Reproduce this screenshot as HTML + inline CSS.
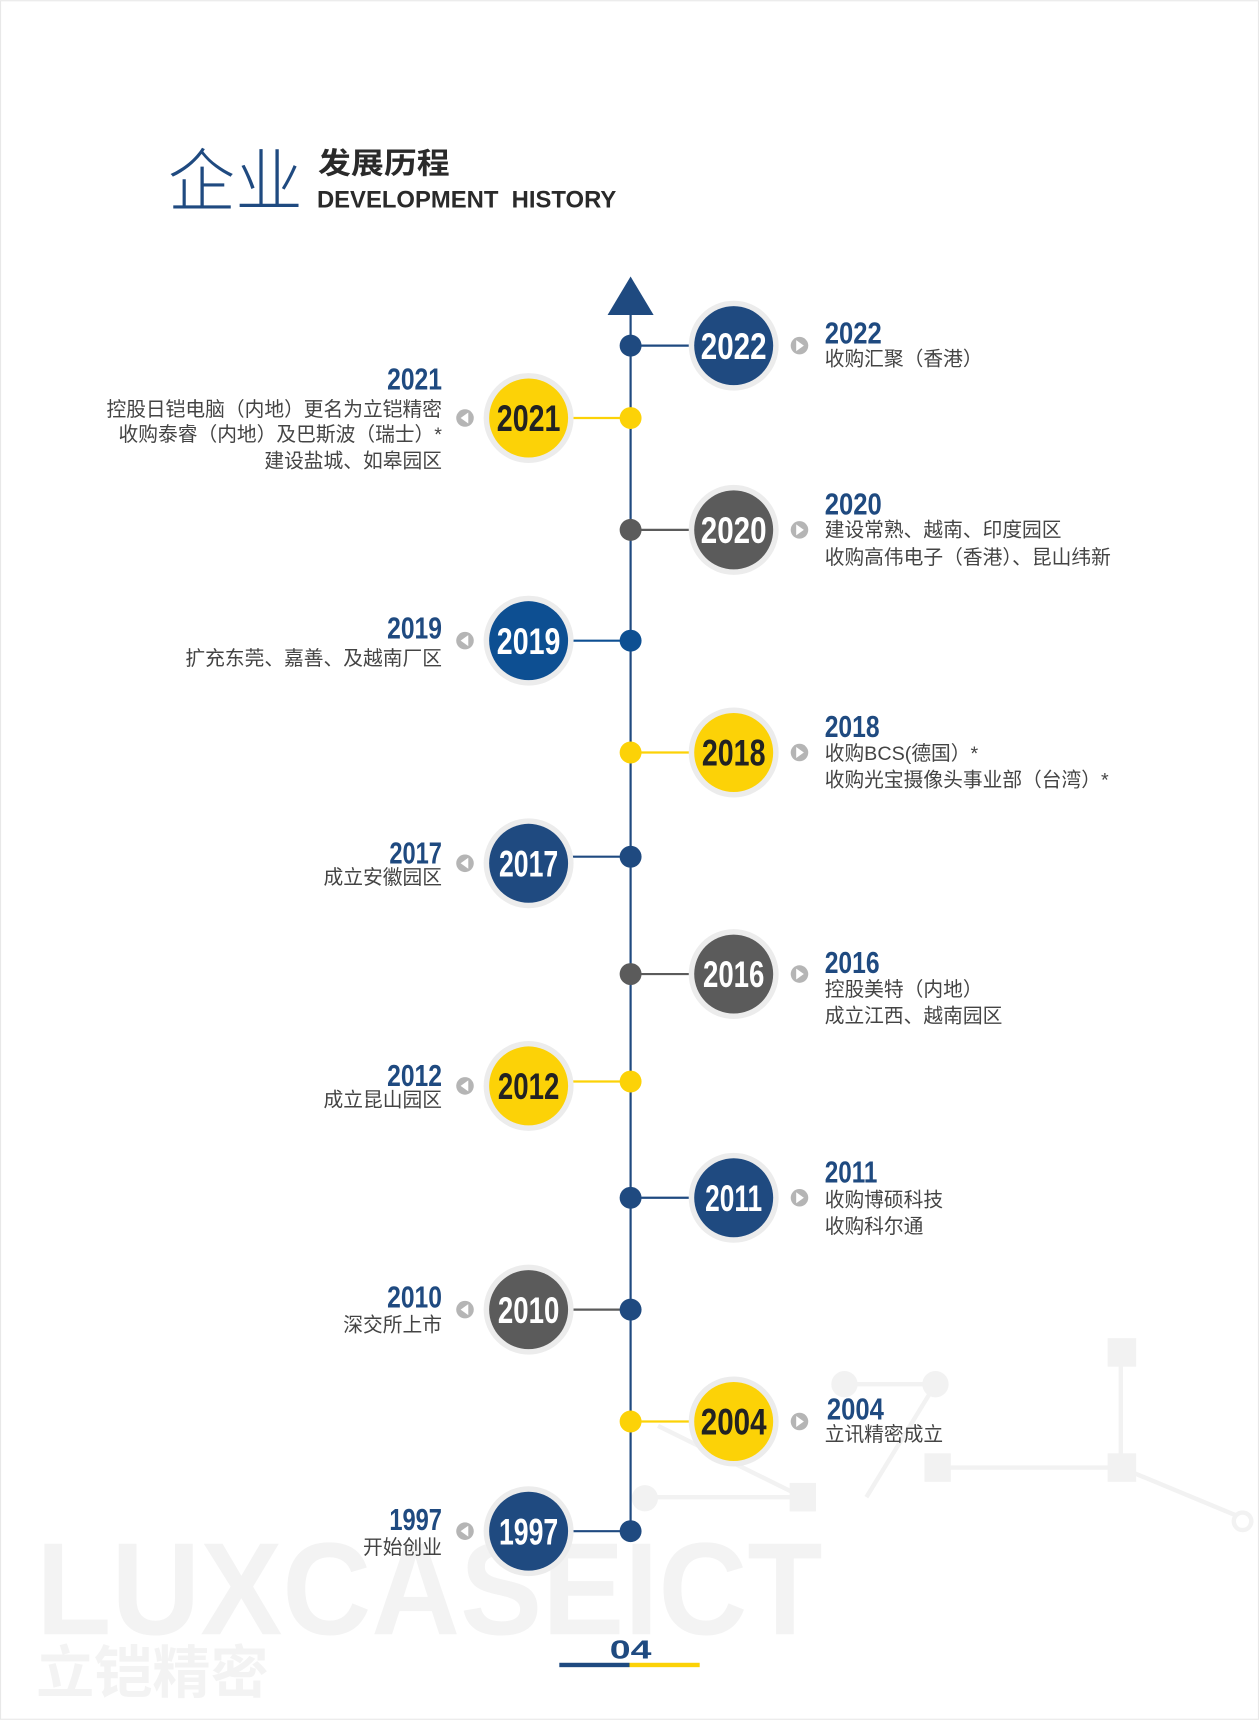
<!DOCTYPE html>
<html><head><meta charset="utf-8">
<style>
html,body{margin:0;padding:0;background:#fff;}
svg{display:block;}
text{font-family:"Liberation Sans","Noto Sans CJK SC",sans-serif;}
.yr{font-family:"Liberation Sans Narrow","Liberation Sans",sans-serif;font-weight:bold;}
.d{font-size:18px;fill:#444;}
</style></head><body>
<svg width="1259" height="1720" viewBox="0 0 1148 1568" xmlns="http://www.w3.org/2000/svg">
<rect x="0.5" y="0.5" width="1147" height="1567" fill="#fff" stroke="#e8e8e8"/>
<g stroke="#f2f2f2" stroke-width="4" fill="none">
<line x1="1022" y1="1230" x2="1022" y2="1338"/>
<line x1="855" y1="1338" x2="1022" y2="1338"/>
<line x1="1022" y1="1338" x2="1128" y2="1382"/>
<circle cx="1133" cy="1387" r="8"/>
<line x1="770" y1="1262" x2="853" y2="1262"/>
<line x1="853" y1="1262" x2="790" y2="1365"/>
<line x1="600" y1="1300" x2="732" y2="1365"/>
<line x1="732" y1="1365" x2="590" y2="1365"/>
</g>
<g fill="#f2f2f2">
<rect x="1010" y="1220" width="26" height="26"/>
<rect x="1010" y="1325" width="26" height="26"/>
<rect x="843" y="1325" width="24" height="26"/>
<rect x="720" y="1352" width="24" height="26"/>
<circle cx="770" cy="1262" r="12"/><circle cx="853" cy="1262" r="12"/>
<circle cx="588" cy="1366" r="12"/>
</g>
<text x="33" y="1490" font-size="120" font-weight="bold" fill="#f3f3f3" textLength="717" lengthAdjust="spacingAndGlyphs">LUXCASEICT</text>
<text x="33" y="1543" font-size="52" font-weight="bold" fill="#f3f3f3" textLength="212" lengthAdjust="spacingAndGlyphs">立铠精密</text>
<text x="153" y="187" font-size="62" fill="#1f4a80" style="font-family:'Noto Sans CJK SC',sans-serif;font-weight:300" textLength="123" lengthAdjust="spacingAndGlyphs">企业</text>
<text x="290" y="158" font-size="27" font-weight="bold" fill="#2a2a2a" textLength="120" lengthAdjust="spacingAndGlyphs">发展历程</text>
<text x="289" y="189" font-size="22" font-weight="bold" fill="#2a2a2a" textLength="273" lengthAdjust="spacingAndGlyphs">DEVELOPMENT&#160;&#160;HISTORY</text>
<line x1="575" y1="285" x2="575" y2="1396" stroke="#1f4a80" stroke-width="2"/>
<polygon points="575,252 596,287 554,287" fill="#1f4a80"/>

<line x1="575" y1="315" x2="632" y2="315" stroke="#1f4a80" stroke-width="2"/>
<circle cx="575" cy="315" r="10" fill="#1f4a80"/>
<circle cx="669" cy="315" r="41" fill="#ececec"/><circle cx="669" cy="315" r="36" fill="#1f4a80"/>
<text class="yr" x="669" y="327" font-size="34" fill="#fff" text-anchor="middle" textLength="60" lengthAdjust="spacingAndGlyphs">2022</text>
<circle cx="729" cy="315" r="8" fill="#b5b5b5"/><polygon points="726,310 733,315 726,320" fill="#fff"/>
<text class="yr" x="752" y="313" font-size="28" fill="#1f4a80" textLength="52" lengthAdjust="spacingAndGlyphs">2022</text>
<text class="d" x="752" y="333">收购汇聚（香港）</text>

<line x1="520" y1="381" x2="575" y2="381" stroke="#fcd207" stroke-width="2"/>
<circle cx="575" cy="381" r="10" fill="#fcd207"/>
<circle cx="482" cy="381" r="41" fill="#ececec"/><circle cx="482" cy="381" r="36" fill="#fcd207"/>
<text class="yr" x="482" y="393" font-size="34" fill="#222" text-anchor="middle" textLength="58" lengthAdjust="spacingAndGlyphs">2021</text>
<circle cx="424" cy="381" r="8" fill="#b5b5b5"/><polygon points="427,376 420,381 427,386" fill="#fff"/>
<text class="yr" x="403" y="355" font-size="28" fill="#1f4a80" text-anchor="end" textLength="50" lengthAdjust="spacingAndGlyphs">2021</text>
<text class="d" x="403" y="379" text-anchor="end">控股日铠电脑（内地）更名为立铠精密</text>
<text class="d" x="403" y="402" text-anchor="end">收购泰睿（内地）及巴斯波（瑞士）*</text>
<text class="d" x="403" y="426" text-anchor="end">建设盐城、如皋园区</text>

<line x1="575" y1="483" x2="632" y2="483" stroke="#5b5b5b" stroke-width="2"/>
<circle cx="575" cy="483" r="10" fill="#5b5b5b"/>
<circle cx="669" cy="483" r="41" fill="#ececec"/><circle cx="669" cy="483" r="36" fill="#5b5b5b"/>
<text class="yr" x="669" y="495" font-size="34" fill="#fff" text-anchor="middle" textLength="60" lengthAdjust="spacingAndGlyphs">2020</text>
<circle cx="729" cy="483" r="8" fill="#b5b5b5"/><polygon points="726,478 733,483 726,488" fill="#fff"/>
<text class="yr" x="752" y="469" font-size="28" fill="#1f4a80" textLength="52" lengthAdjust="spacingAndGlyphs">2020</text>
<text class="d" x="752" y="489">建设常熟、越南、印度园区</text>
<text class="d" x="752" y="514">收购高伟电子（香港）、昆山纬新</text>

<line x1="520" y1="584" x2="575" y2="584" stroke="#0d4f92" stroke-width="2"/>
<circle cx="575" cy="584" r="10" fill="#0d4f92"/>
<circle cx="482" cy="584" r="41" fill="#ececec"/><circle cx="482" cy="584" r="36" fill="#0d4f92"/>
<text class="yr" x="482" y="596" font-size="34" fill="#fff" text-anchor="middle" textLength="58" lengthAdjust="spacingAndGlyphs">2019</text>
<circle cx="424" cy="584" r="8" fill="#b5b5b5"/><polygon points="427,579 420,584 427,589" fill="#fff"/>
<text class="yr" x="403" y="582" font-size="28" fill="#1f4a80" text-anchor="end" textLength="50" lengthAdjust="spacingAndGlyphs">2019</text>
<text class="d" x="403" y="606" text-anchor="end">扩充东莞、嘉善、及越南厂区</text>

<line x1="575" y1="686" x2="632" y2="686" stroke="#fcd207" stroke-width="2"/>
<circle cx="575" cy="686" r="10" fill="#fcd207"/>
<circle cx="669" cy="686" r="41" fill="#ececec"/><circle cx="669" cy="686" r="36" fill="#fcd207"/>
<text class="yr" x="669" y="698" font-size="34" fill="#222" text-anchor="middle" textLength="58" lengthAdjust="spacingAndGlyphs">2018</text>
<circle cx="729" cy="686" r="8" fill="#b5b5b5"/><polygon points="726,681 733,686 726,691" fill="#fff"/>
<text class="yr" x="752" y="672" font-size="28" fill="#1f4a80" textLength="50" lengthAdjust="spacingAndGlyphs">2018</text>
<text class="d" x="752" y="693">收购BCS(德国）*</text>
<text class="d" x="752" y="717">收购光宝摄像头事业部（台湾）*</text>

<line x1="520" y1="781" x2="575" y2="781" stroke="#1f4a80" stroke-width="2"/>
<circle cx="575" cy="781" r="10" fill="#1f4a80"/>
<circle cx="482" cy="787" r="41" fill="#ececec"/><circle cx="482" cy="787" r="36" fill="#1f4a80"/>
<text class="yr" x="482" y="799" font-size="34" fill="#fff" text-anchor="middle" textLength="54" lengthAdjust="spacingAndGlyphs">2017</text>
<circle cx="424" cy="787" r="8" fill="#b5b5b5"/><polygon points="427,782 420,787 427,792" fill="#fff"/>
<text class="yr" x="403" y="787" font-size="28" fill="#1f4a80" text-anchor="end" textLength="48" lengthAdjust="spacingAndGlyphs">2017</text>
<text class="d" x="403" y="806" text-anchor="end">成立安徽园区</text>

<line x1="575" y1="888" x2="632" y2="888" stroke="#5b5b5b" stroke-width="2"/>
<circle cx="575" cy="888" r="10" fill="#5b5b5b"/>
<circle cx="669" cy="888" r="41" fill="#ececec"/><circle cx="669" cy="888" r="36" fill="#5b5b5b"/>
<text class="yr" x="669" y="900" font-size="34" fill="#fff" text-anchor="middle" textLength="56" lengthAdjust="spacingAndGlyphs">2016</text>
<circle cx="729" cy="888" r="8" fill="#b5b5b5"/><polygon points="726,883 733,888 726,893" fill="#fff"/>
<text class="yr" x="752" y="887" font-size="28" fill="#1f4a80" textLength="50" lengthAdjust="spacingAndGlyphs">2016</text>
<text class="d" x="752" y="908">控股美特（内地）</text>
<text class="d" x="752" y="932">成立江西、越南园区</text>

<line x1="520" y1="986" x2="575" y2="986" stroke="#fcd207" stroke-width="2"/>
<circle cx="575" cy="986" r="10" fill="#fcd207"/>
<circle cx="482" cy="990" r="41" fill="#ececec"/><circle cx="482" cy="990" r="36" fill="#fcd207"/>
<text class="yr" x="482" y="1002" font-size="34" fill="#222" text-anchor="middle" textLength="56" lengthAdjust="spacingAndGlyphs">2012</text>
<circle cx="424" cy="990" r="8" fill="#b5b5b5"/><polygon points="427,985 420,990 427,995" fill="#fff"/>
<text class="yr" x="403" y="990" font-size="28" fill="#1f4a80" text-anchor="end" textLength="50" lengthAdjust="spacingAndGlyphs">2012</text>
<text class="d" x="403" y="1009" text-anchor="end">成立昆山园区</text>

<line x1="575" y1="1092" x2="632" y2="1092" stroke="#1f4a80" stroke-width="2"/>
<circle cx="575" cy="1092" r="10" fill="#1f4a80"/>
<circle cx="669" cy="1092" r="41" fill="#ececec"/><circle cx="669" cy="1092" r="36" fill="#1f4a80"/>
<text class="yr" x="669" y="1104" font-size="34" fill="#fff" text-anchor="middle" textLength="52" lengthAdjust="spacingAndGlyphs">2011</text>
<circle cx="729" cy="1092" r="8" fill="#b5b5b5"/><polygon points="726,1087 733,1092 726,1097" fill="#fff"/>
<text class="yr" x="752" y="1078" font-size="28" fill="#1f4a80" textLength="48" lengthAdjust="spacingAndGlyphs">2011</text>
<text class="d" x="752" y="1100">收购博硕科技</text>
<text class="d" x="752" y="1124">收购科尔通</text>

<line x1="520" y1="1194" x2="575" y2="1194" stroke="#5b5b5b" stroke-width="2"/>
<circle cx="575" cy="1194" r="10" fill="#1f4a80"/>
<circle cx="482" cy="1194" r="41" fill="#ececec"/><circle cx="482" cy="1194" r="36" fill="#5b5b5b"/>
<text class="yr" x="482" y="1206" font-size="34" fill="#fff" text-anchor="middle" textLength="56" lengthAdjust="spacingAndGlyphs">2010</text>
<circle cx="424" cy="1194" r="8" fill="#b5b5b5"/><polygon points="427,1189 420,1194 427,1199" fill="#fff"/>
<text class="yr" x="403" y="1192" font-size="28" fill="#1f4a80" text-anchor="end" textLength="50" lengthAdjust="spacingAndGlyphs">2010</text>
<text class="d" x="403" y="1214" text-anchor="end">深交所上市</text>

<line x1="575" y1="1296" x2="632" y2="1296" stroke="#fcd207" stroke-width="2"/>
<circle cx="575" cy="1296" r="10" fill="#fcd207"/>
<circle cx="669" cy="1296" r="41" fill="#ececec"/><circle cx="669" cy="1296" r="36" fill="#fcd207"/>
<text class="yr" x="669" y="1308" font-size="34" fill="#222" text-anchor="middle" textLength="60" lengthAdjust="spacingAndGlyphs">2004</text>
<circle cx="729" cy="1296" r="8" fill="#b5b5b5"/><polygon points="726,1291 733,1296 726,1301" fill="#fff"/>
<text class="yr" x="754" y="1294" font-size="28" fill="#1f4a80" textLength="52" lengthAdjust="spacingAndGlyphs">2004</text>
<text class="d" x="752" y="1314">立讯精密成立</text>

<line x1="520" y1="1396" x2="575" y2="1396" stroke="#1f4a80" stroke-width="2"/>
<circle cx="575" cy="1396" r="10" fill="#1f4a80"/>
<circle cx="482" cy="1396" r="41" fill="#ececec"/><circle cx="482" cy="1396" r="36" fill="#1f4a80"/>
<text class="yr" x="482" y="1408" font-size="34" fill="#fff" text-anchor="middle" textLength="54" lengthAdjust="spacingAndGlyphs">1997</text>
<circle cx="424" cy="1396" r="8" fill="#b5b5b5"/><polygon points="427,1391 420,1396 427,1401" fill="#fff"/>
<text class="yr" x="403" y="1395" font-size="28" fill="#1f4a80" text-anchor="end" textLength="48" lengthAdjust="spacingAndGlyphs">1997</text>
<text class="d" x="403" y="1417" text-anchor="end">开始创业</text>

<text x="575" y="1512" font-size="24" font-weight="bold" fill="#1f4a80" text-anchor="middle" textLength="38" lengthAdjust="spacingAndGlyphs">04</text>
<rect x="510" y="1516" width="64" height="4" fill="#1f4a80"/>
<rect x="574" y="1516" width="64" height="4" fill="#fcd207"/>
</svg>
</body></html>
